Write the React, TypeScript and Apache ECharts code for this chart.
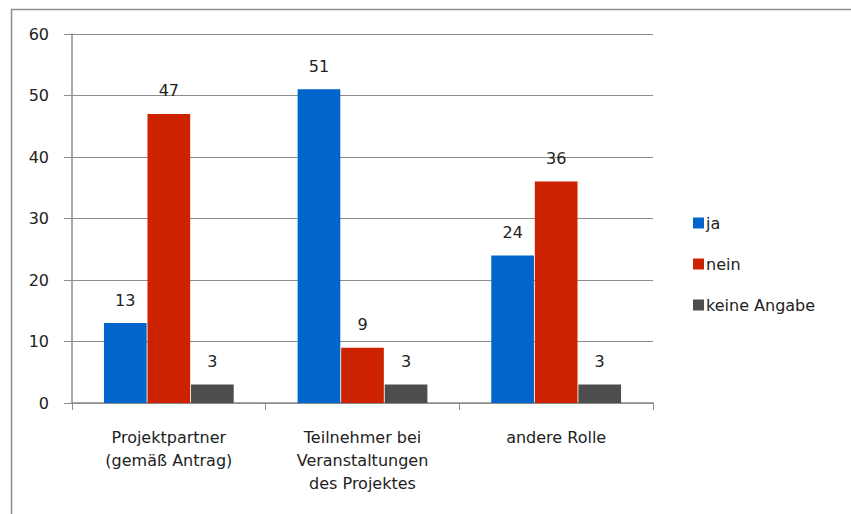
import React, { useEffect, useRef } from "react";
import * as echarts from "echarts";

const categories = [
  "Projektpartner\n(gemäß Antrag)",
  "Teilnehmer bei\nVeranstaltungen\ndes Projektes",
  "andere Rolle",
];
const seriesNames = ["ja", "nein", "keine Angabe"];
const jaValues = [13, 51, 24];
const neinValues = [47, 9, 36];
const keineValues = [3, 3, 3];
const colors = ["#0066cc", "#cc2200", "#4d4d4d"];

export default function App() {
  const ref = useRef<HTMLDivElement>(null);
  useEffect(() => {
    document.body.style.margin = "0";
    if (!ref.current) return;
    const chart = echarts.init(ref.current, null, { renderer: "svg" });
    const font = "DejaVu Sans";
    const data = [jaValues, neinValues, keineValues];
    chart.setOption({
      animation: false,
      backgroundColor: "#ffffff",
      textStyle: { fontFamily: font },
      graphic: [
        {
          type: "rect",
          shape: { x: 11.5, y: 9.5, width: 900, height: 520 },
          style: { fill: "none", stroke: "#8c8c8c", lineWidth: 1.5 },
          silent: true,
        },
      ],
      legend: {
        orient: "vertical",
        left: 688,
        top: 210,
        itemWidth: 11,
        itemHeight: 11,
        itemGap: 25,
        icon: "rect",
        textStyle: { fontFamily: font, fontSize: 16, color: "#222", padding: [0, 0, 0, -3] },
        data: seriesNames,
      },
      grid: { left: 72, top: 34, width: 581, height: 369, containLabel: false },
      xAxis: {
        type: "category",
        data: categories,
        axisLine: { lineStyle: { color: "#8c8c8c", width: 1.5 } },
        axisTick: { show: true, length: 7, lineStyle: { color: "#8c8c8c" } },
        axisLabel: {
          fontFamily: font,
          fontSize: 16,
          color: "#222",
          margin: 23,
          lineHeight: 23,
          interval: 0,
        },
      },
      yAxis: {
        type: "value",
        min: 0,
        max: 60,
        interval: 10,
        axisLine: { show: true, lineStyle: { color: "#8c8c8c", width: 1.5 } },
        axisTick: { show: true, length: 8, lineStyle: { color: "#8c8c8c" } },
        axisLabel: { fontFamily: font, fontSize: 16, color: "#222", margin: 23 },
        splitLine: { lineStyle: { color: "#8c8c8c", width: 1.2 } },
      },
      series: seriesNames.map((name, i) => ({
        name,
        type: "bar",
        data: data[i],
        barCategoryGap: "33%",
        barGap: "2%",
        itemStyle: { color: colors[i] },
        label: {
          show: true,
          position: "top",
          distance: 15,
          fontFamily: font,
          fontSize: 16,
          color: "#222",
        },
      })),
    });
    return () => chart.dispose();
  }, []);
  return <div ref={ref} style={{ width: 851, height: 514 }} />;
}
